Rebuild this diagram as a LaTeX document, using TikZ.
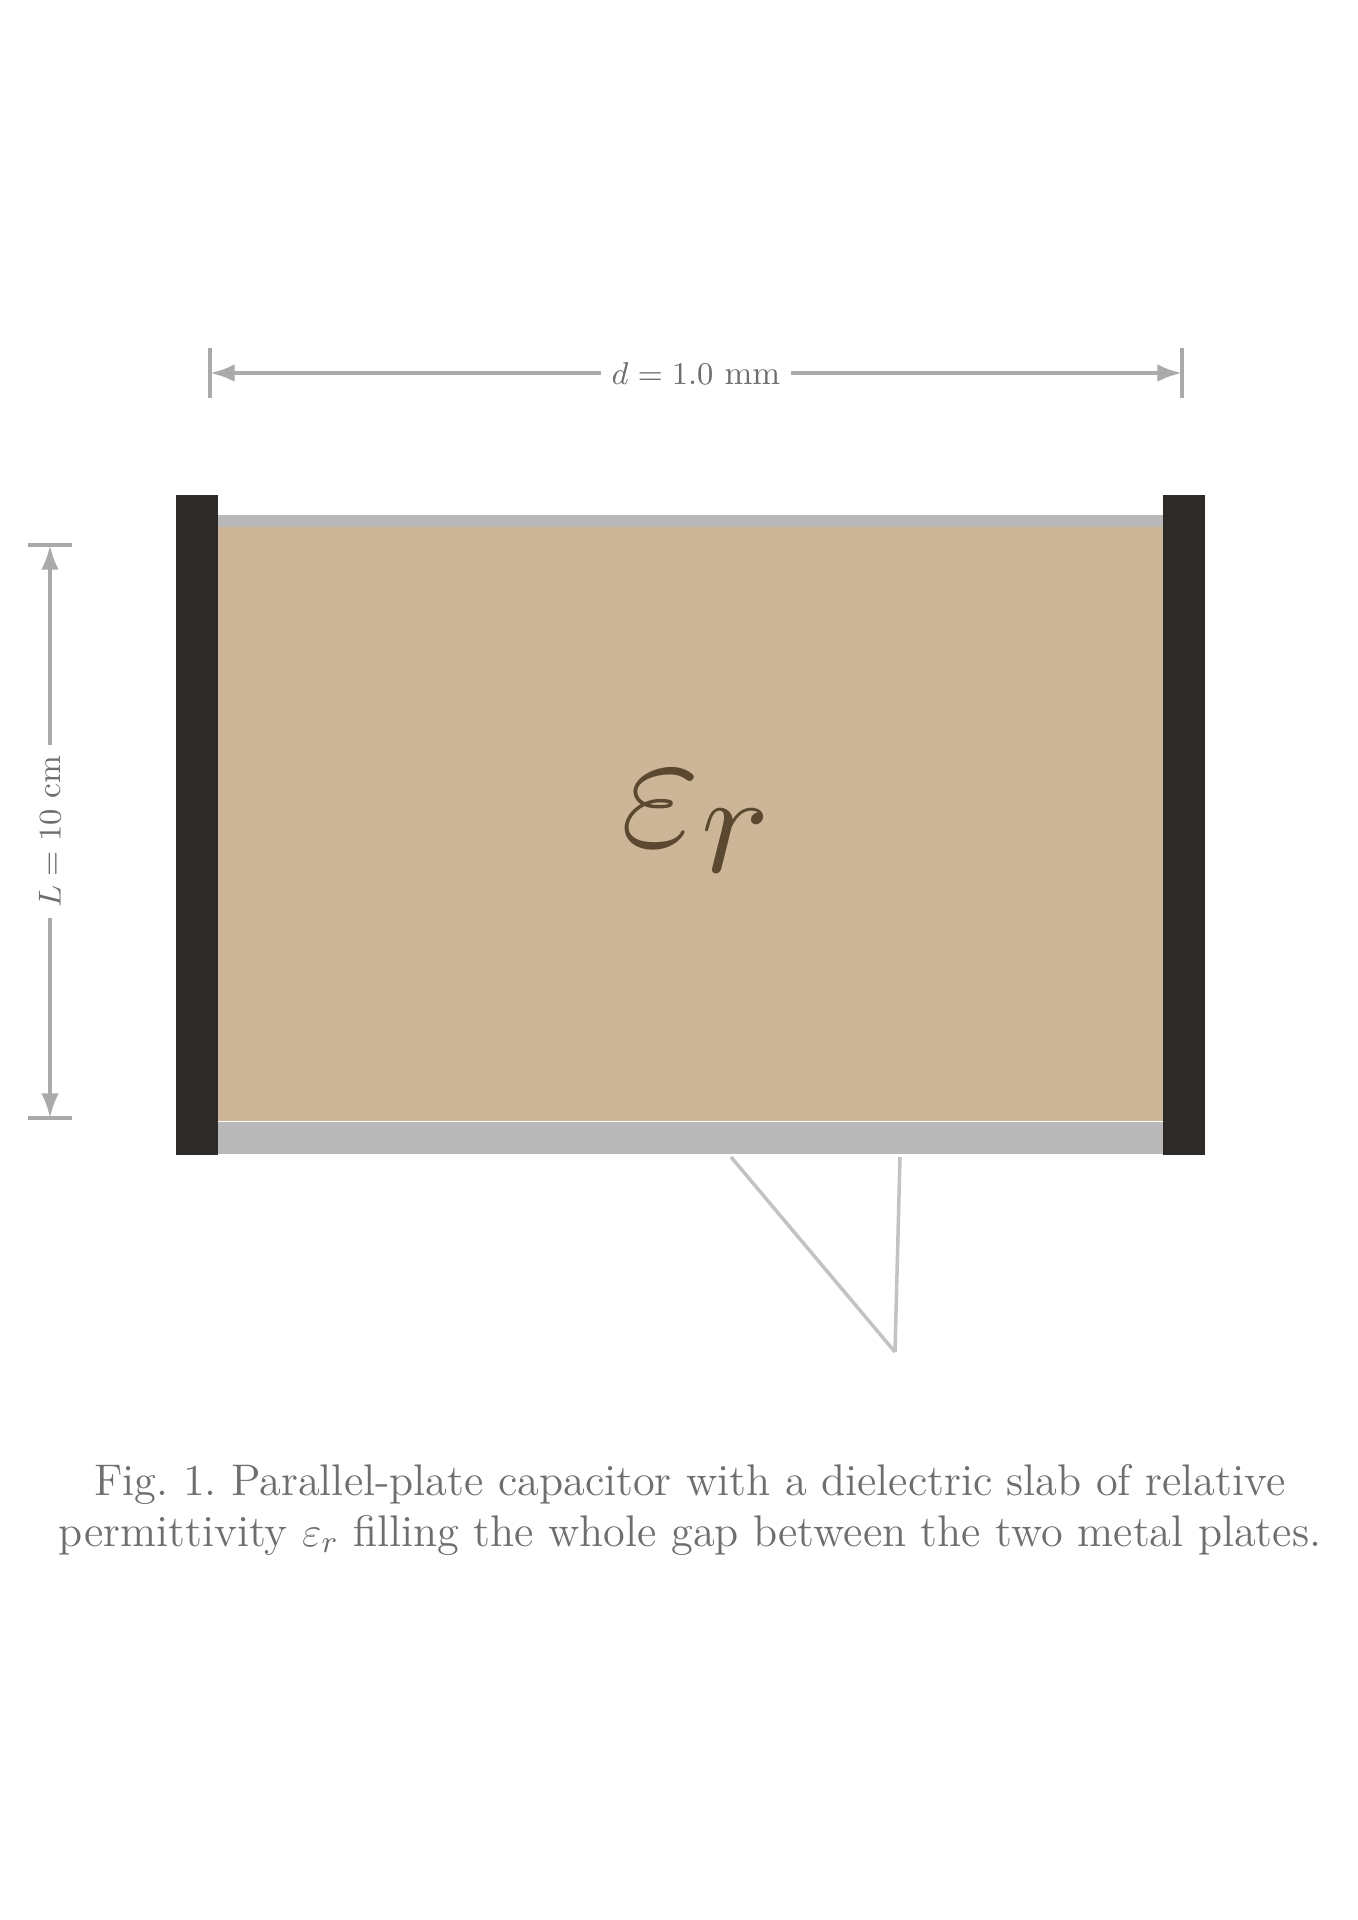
\documentclass[tikz,border=0pt]{standalone}
\usepackage{fontspec}
\usetikzlibrary{arrows.meta}
\definecolor{tancol}{RGB}{205,182,151}
\definecolor{platecol}{RGB}{45,42,40}
\definecolor{dimcol}{RGB}{170,170,170}
\definecolor{bandcol}{RGB}{185,185,185}
\definecolor{labcol}{RGB}{90,72,48}
\definecolor{capcol}{RGB}{110,110,110}
\begin{document}
\begin{tikzpicture}[x=0.01cm,y=-0.01cm,
  plate/.style={fill=platecol,draw=none,minimum width=0.42cm,minimum height=6.6cm,inner sep=0pt,outer sep=0pt},
  dielec/.style={fill=tancol,draw=none,minimum width=9.46cm,minimum height=5.94cm,inner sep=0pt,outer sep=0pt},
  band/.style={fill=bandcol,draw=none,inner sep=0pt,outer sep=0pt,minimum width=9.46cm},
  dimline/.style={draw=dimcol,line width=1.1pt,{Latex[length=7pt,width=5pt]}-{Latex[length=7pt,width=5pt]}},
  tick/.style={draw=dimcol,line width=1.1pt},
  dimlabel/.style={fill=white,text=capcol,font=\fontsize{9.5}{11}\selectfont,inner sep=3pt},
  leader/.style={draw=dimcol!70,line width=1pt},
  centerlab/.style={text=labcol,font=\Huge,scale=2},
  caption/.style={text=capcol,font=\fontsize{12.6}{14.5}\selectfont,align=center}
]
\useasboundingbox (0,0) rectangle (1358,1920);
\fill[white] (0,0) rectangle (1358,1920);

% dielectric and bands
\node[dielec] (diel) at (690.5,824) {};
\node[band,minimum height=0.12cm] (topband) at (690.5,521) {};
\node[band,minimum height=0.32cm] (botband) at (690.5,1138) {};
% plates
\node[plate] (pl) at (197,825) {};
\node[plate] (pr) at (1184,825) {};
% center label
\node[centerlab] (eps) at (697,822) {$\varepsilon_r$};

% top dimension
\coordinate (tl) at (210,373);
\coordinate (tr) at (1182,373);
\draw[tick] (210,348) -- (210,398);
\draw[tick] (1182,348) -- (1182,398);
\draw[dimline] (tl) -- (tr) node[dimlabel,midway] (dlab) {$d = 1.0$ mm};

% left dimension
\coordinate (lt) at (50,545);
\coordinate (lb) at (50,1118);
\draw[tick] (28,545) -- (72,545);
\draw[tick] (28,1118) -- (72,1118);
\draw[dimline] (lt) -- (lb) node[dimlabel,midway,rotate=90] (hlab) {$L = 10$ cm};

% leader lines below
\coordinate (la) at (731,1157);
\coordinate (lbb) at (900,1157);
\coordinate (tip) at (895,1352);
\draw[leader] (la) -- (tip);
\draw[leader] (lbb) -- (tip);

% caption
\node[caption] (cap) at (690,1510) {Fig.~1.\ Parallel-plate capacitor with a dielectric slab of relative\\
permittivity $\varepsilon_r$ filling the whole gap between the two metal plates.};
\end{tikzpicture}
\end{document}
